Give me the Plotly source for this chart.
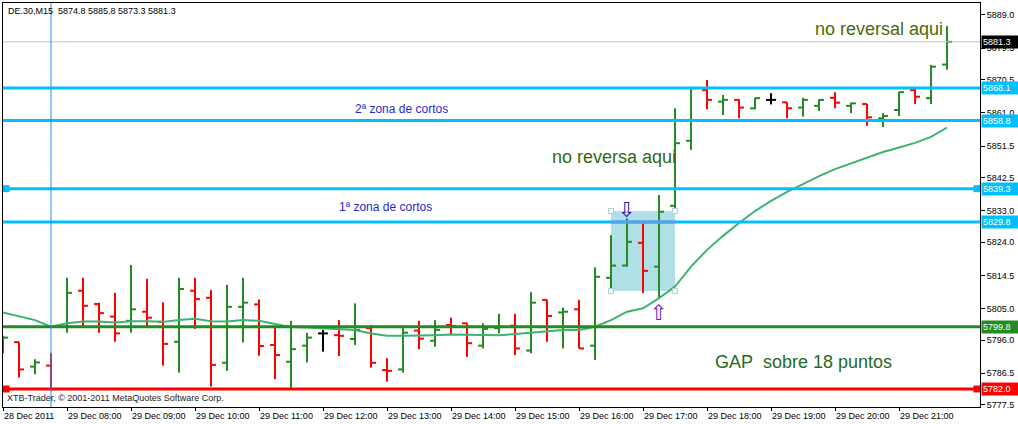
import plotly.graph_objects as go

# ---------------- data ----------------
x_tick_idx = [0, 4, 8, 12, 16, 20, 24, 28, 32, 36, 40, 44, 48, 52, 56]
x_tick_text = ["28 Dec 2011", "29 Dec 08:00", "29 Dec 09:00", "29 Dec 10:00", "29 Dec 11:00",
               "29 Dec 12:00", "29 Dec 13:00", "29 Dec 14:00", "29 Dec 15:00", "29 Dec 16:00",
               "29 Dec 17:00", "29 Dec 18:00", "29 Dec 19:00", "29 Dec 20:00", "29 Dec 21:00"]

opens = [5793.2, 5795.4, 5788.4, 5788.7, 5799.8, 5810.1, 5806.3, 5802.7, 5801.5, 5804.1,
         5801.2, 5795.5, 5810.1, 5808.1, 5789.5, 5805.5, 5806.2, 5794.6, 5789.8, 5794.4,
         5797.9, 5797.4, 5796.3, 5799.4, 5787.4, 5787.6, 5798.7, 5795.8, 5800.3, 5800.8,
         5794.4, 5799.4, 5800.1, 5793.0, 5807.5, 5803.9, 5804.8, 5794.4, 5813.8, 5817.3,
         5823.8, 5817.0, 5834.4, 5853.0, 5867.5, 5864.2, 5864.7, 5862.3, 5864.7, 5864.0,
         5862.5, 5863.0, 5865.3, 5863.0, 5863.5, 5859.4, 5861.8, 5867.5, 5865.2, 5874.8]
highs = [5797.2, 5795.4, 5790.5, 5792.2, 5813.8, 5813.8, 5806.7, 5809.5, 5817.5, 5813.5,
         5806.8, 5813.8, 5813.8, 5810.3, 5811.8, 5813.8, 5807.6, 5800.0, 5801.5, 5798.1,
         5798.9, 5801.7, 5806.5, 5800.3, 5790.8, 5799.4, 5801.5, 5801.7, 5802.4, 5800.8,
         5800.8, 5803.5, 5803.5, 5809.7, 5807.5, 5805.3, 5807.5, 5816.8, 5826.0, 5830.8,
         5829.4, 5837.5, 5862.3, 5868.2, 5870.4, 5866.1, 5864.9, 5865.3, 5866.6, 5864.0,
         5865.3, 5864.9, 5866.9, 5863.9, 5863.5, 5860.9, 5867.0, 5868.3, 5874.7, 5885.8]
lows = [5792.2, 5785.3, 5786.2, 5781.6, 5798.1, 5800.0, 5798.1, 5795.5, 5798.1, 5799.5,
        5788.7, 5786.7, 5799.2, 5782.7, 5787.2, 5795.3, 5791.5, 5784.8, 5782.2, 5789.6,
        5792.7, 5791.4, 5794.6, 5788.1, 5784.1, 5786.7, 5793.4, 5794.1, 5797.7, 5791.2,
        5793.6, 5797.9, 5791.7, 5792.2, 5795.5, 5793.6, 5793.6, 5790.3, 5810.3, 5817.0,
        5809.4, 5807.7, 5832.7, 5850.4, 5862.0, 5860.4, 5859.4, 5862.0, 5863.4, 5859.4,
        5859.9, 5861.5, 5862.3, 5860.9, 5857.3, 5856.9, 5860.1, 5863.5, 5863.5, 5873.3]
closes = [5796.7, 5787.6, 5789.6, 5782.0, 5809.5, 5805.8, 5803.7, 5797.9, 5804.8, 5802.4,
          5794.9, 5810.6, 5807.7, 5788.9, 5805.5, 5806.7, 5794.3, 5791.7, 5793.4, 5796.7,
          5797.9, 5797.2, 5798.9, 5789.5, 5787.2, 5798.1, 5796.4, 5798.9, 5800.0, 5795.1,
          5799.2, 5799.8, 5793.6, 5806.7, 5802.9, 5804.1, 5793.6, 5814.1, 5817.3, 5824.1,
          5815.8, 5832.7, 5852.3, 5868.0, 5864.7, 5864.7, 5862.5, 5865.2, 5864.7, 5862.3,
          5864.7, 5864.7, 5863.9, 5863.7, 5859.7, 5860.1, 5866.9, 5865.6, 5874.2, 5881.3]
ma_values = [5803.9, 5802.9, 5801.7, 5799.8, 5800.8, 5801.3, 5801.3, 5801.0, 5801.4, 5801.4,
             5801.2, 5801.7, 5802.1, 5801.4, 5801.3, 5801.7, 5801.5, 5800.6, 5799.7, 5799.6,
             5799.4, 5799.2, 5798.9, 5797.9, 5797.2, 5797.2, 5797.2, 5797.4, 5797.6, 5797.6,
             5797.6, 5797.4, 5797.7, 5798.1, 5798.7, 5798.9, 5798.9, 5799.8, 5801.7, 5804.1,
             5805.1, 5808.0, 5811.3, 5817.0, 5821.8, 5825.8, 5829.5, 5832.9, 5835.8, 5838.4,
             5840.6, 5842.9, 5844.9, 5846.6, 5848.1, 5849.8, 5851.1, 5852.4, 5854.1, 5856.8]

y_ticks = [5777.5, 5786.5, 5796.0, 5805.0, 5814.5, 5824.0, 5833.0, 5842.5, 5851.5,
           5861.0, 5870.5, 5879.5, 5889.0]
y_range = [5776.85, 5892.41]
x_range = [0, 61.06]

blue_levels = [5868.1, 5858.8, 5839.3, 5829.8]
green_level = 5799.8
red_level = 5782.0
bid_level = 5881.3
separator_bar = 3
box_x = [38, 42]
box_y = [5810.0, 5832.9]
header = "DE.30,M15  5874.8 5885.8 5873.3 5881.3"

# ---------------- styles ----------------
GREEN = "#228B22"
RED = "#FF0000"
BLACK = "#000000"
SKY = "#00BFFF"
FONT = "Liberation Sans, Arial, sans-serif"
TICK = 0.31

fig = go.Figure()

# background rectangle
fig.add_shape(type="rect", xref="x", yref="y", x0=box_x[0], x1=box_x[1], y0=box_y[0], y1=box_y[1],
              fillcolor="#B0DFE6", line=dict(width=0), layer="below")

# OHLC bars
groups = {GREEN: ([], []), RED: ([], []), BLACK: ([], [])}
for i, (o, h, l, c) in enumerate(zip(opens, highs, lows, closes)):
    col = GREEN if c > o else (RED if c < o else BLACK)
    xs, ys = groups[col]
    xs += [i, i, None, i - TICK, i, None, i, i + TICK, None]
    ys += [l, h, None, o, o, None, c, c, None]
for col, (xs, ys) in groups.items():
    fig.add_trace(go.Scatter(x=xs, y=ys, mode="lines", line=dict(color=col, width=2),
                             hoverinfo="skip", showlegend=False))

# moving average
fig.add_trace(go.Scatter(x=list(range(len(ma_values))), y=ma_values, mode="lines",
                         line=dict(color="#3CB371", width=2), hoverinfo="skip", showlegend=False))

# horizontal levels
fig.add_shape(type="line", xref="paper", yref="y", x0=0, x1=1, y0=bid_level, y1=bid_level,
              line=dict(color="#C0C0C0", width=1))
for lv in blue_levels:
    fig.add_shape(type="line", xref="paper", yref="y", x0=0, x1=1, y0=lv, y1=lv,
                  line=dict(color=SKY, width=3))
fig.add_shape(type="line", xref="x", yref="y", x0=box_x[0], x1=box_x[1],
              y0=blue_levels[3], y1=blue_levels[3], line=dict(color="#5C9EE8", width=3))
fig.add_shape(type="line", xref="paper", yref="y", x0=0, x1=1, y0=green_level, y1=green_level,
              line=dict(color=GREEN, width=3))
fig.add_shape(type="line", xref="paper", yref="y", x0=0, x1=1, y0=red_level, y1=red_level,
              line=dict(color=RED, width=3))
fig.add_shape(type="line", xref="x", yref="paper", x0=separator_bar, x1=separator_bar, y0=0, y1=1,
              line=dict(color="#1E90FF", width=1))

# anchor squares on selected lines
xa = [x_range[0] + 0.19, x_range[1] - 0.19]
for lv, col in [(blue_levels[2], SKY), (red_level, RED)]:
    fig.add_trace(go.Scatter(x=xa, y=[lv, lv], mode="markers",
                             marker=dict(symbol="square", size=7, color=col, line=dict(width=0)),
                             hoverinfo="skip", showlegend=False))
    fig.add_trace(go.Scatter(x=xa, y=[lv, lv], mode="markers",
                             marker=dict(symbol="square", size=2, color="white", line=dict(width=0)),
                             hoverinfo="skip", showlegend=False))
# rectangle corner handles
fig.add_trace(go.Scatter(x=[box_x[0], box_x[1], box_x[0], box_x[1]],
                         y=[box_y[0], box_y[0], box_y[1], box_y[1]], mode="markers",
                         marker=dict(symbol="square", size=5, color="white",
                                     line=dict(color="#A9CCDA", width=1)),
                         hoverinfo="skip", showlegend=False))

ann = []
ann.append(dict(text=header, xref="paper", yref="paper", x=0, y=1, xanchor="left", yanchor="top",
                xshift=3, yshift=-1, showarrow=False, font=dict(family=FONT, size=9, color="black")))
ann.append(dict(text="XTB-Trader, © 2001-2011 MetaQuotes Software Corp.", xref="paper", yref="paper",
                x=0, y=0, xanchor="left", yanchor="bottom", xshift=2, yshift=2, showarrow=False,
                font=dict(family=FONT, size=9, color="#222222")))
ann.append(dict(text="no reversal aqui", xref="x", yref="y", x=50.63, y=5885.0, xanchor="left",
                yanchor="middle", showarrow=False, font=dict(family=FONT, size=18, color="#4A6A0A")))
ann.append(dict(text="no reversa aqui", xref="x", yref="y", x=34.19, y=5848.5, xanchor="left",
                yanchor="middle", showarrow=False, font=dict(family=FONT, size=18, color="#2F6A12")))
ann.append(dict(text="GAP\u00a0 sobre 18 puntos", xref="x", yref="y", x=44.375, y=5789.6, xanchor="left",
                yanchor="middle", showarrow=False, font=dict(family=FONT, size=18, color="#1F6B1F")))
ann.append(dict(text="2ª zona de cortos", xref="x", yref="y", x=21.875, y=5862.1, xanchor="left",
                yanchor="middle", showarrow=False, font=dict(family=FONT, size=12, color="#2828D0")))
ann.append(dict(text="1ª zona de cortos", xref="x", yref="y", x=20.875, y=5834.1, xanchor="left",
                yanchor="middle", showarrow=False, font=dict(family=FONT, size=12, color="#2828D0")))
ann.append(dict(text="⇩", xref="x", yref="y", x=39, y=5833.2, xanchor="center", yanchor="middle",
                showarrow=False, font=dict(family="DejaVu Sans", size=21, color="#1A1AA0")))
ann.append(dict(text="⇧", xref="x", yref="y", x=41, y=5803.8, xanchor="center", yanchor="middle",
                showarrow=False, font=dict(family="DejaVu Sans", size=21, color="#6A1AA8")))

# right-side price tags
tags = [(bid_level, "black")] + [(lv, SKY) for lv in blue_levels] + [(green_level, GREEN), (red_level, RED)]
for lv, col in tags:
    ann.append(dict(text=f"{lv:.1f}", xref="paper", yref="y", x=1, y=lv, xanchor="left",
                    yanchor="middle", xshift=1, showarrow=False, bgcolor=col, borderpad=1,
                    width=34, height=10, align="left",
                    font=dict(family=FONT, size=9, color="white")))

fig.update_layout(
    width=1018, height=424,
    margin=dict(l=3, r=38, t=3, b=17),
    paper_bgcolor="white", plot_bgcolor="white",
    showlegend=False,
    annotations=ann,
    xaxis=dict(range=x_range, showgrid=False, zeroline=False, showline=True, linecolor="black",
               linewidth=1, mirror=True, ticks="outside", ticklen=3, tickcolor="black",
               tickvals=x_tick_idx, ticktext=x_tick_text, ticklabelposition="outside right",
               tickfont=dict(family=FONT, size=9, color="black")),
    yaxis=dict(range=y_range, side="right", showgrid=False, zeroline=False, showline=True,
               linecolor="black", linewidth=1, mirror=True, ticks="outside", ticklen=4,
               tickcolor="black", tickvals=y_ticks, ticktext=[f"{v:.1f}" for v in y_ticks],
               tickfont=dict(family=FONT, size=9, color="black")),
)

fig.write_html("out.html", config={"displayModeBar": False},
               post_script="document.body.style.margin='0';document.body.style.overflow='hidden';")
